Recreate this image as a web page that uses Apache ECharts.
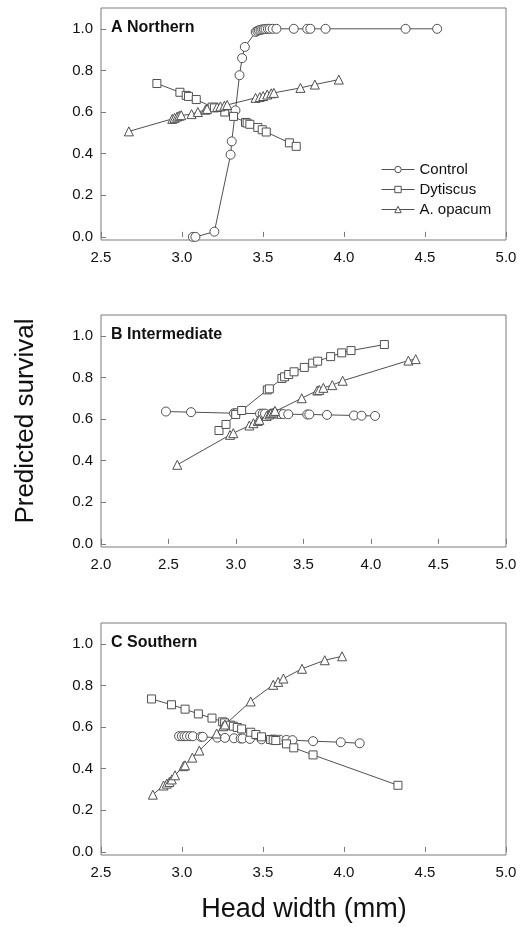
<!DOCTYPE html>
<html lang="en" style="height: 100%">
<head>
  <meta charset="utf-8">
</head>
<body style="height: 100%; margin: 0; background: #fff">
  <div id="container" style="width: 523px; height: 927px"></div>

  <script type="text/javascript" src="https://cdn.jsdelivr.net/npm/echarts@6/dist/echarts.min.js"></script>

  <script type="text/javascript">
    var dom = document.getElementById('container');
    var myChart = echarts.init(dom, null, { renderer: 'canvas' });

    // ---- data ----
    const panelTitles = ['A Northern', 'B Intermediate', 'C Southern'];
    const seriesNames = ['Control', 'Dytiscus', 'A. opacum'];
    const yTicks = [0, 0.2, 0.4, 0.6, 0.8, 1.0];

    // A Northern
    const ctrlA_x = [3.067, 3.083, 3.20, 3.30, 3.307, 3.33, 3.355, 3.371, 3.388, 3.455, 3.465, 3.475, 3.485, 3.495, 3.505, 3.516, 3.53, 3.542, 3.56, 3.583, 3.69, 3.773, 3.792, 3.886, 4.38, 4.575];
    const ctrlA_y = [0.0, 0.0, 0.025, 0.395, 0.459, 0.608, 0.777, 0.859, 0.913, 0.985, 0.99, 0.993, 0.995, 0.997, 0.998, 0.999, 1, 1, 1, 1, 1, 1, 1, 1, 1, 1];
    const dytA_x = [2.845, 2.987, 3.026, 3.04, 3.088, 3.186, 3.2, 3.264, 3.318, 3.392, 3.402, 3.419, 3.468, 3.495, 3.52, 3.663, 3.705];
    const dytA_y = [0.737, 0.695, 0.68, 0.675, 0.66, 0.624, 0.62, 0.60, 0.579, 0.55, 0.547, 0.541, 0.526, 0.515, 0.504, 0.452, 0.435];
    const opaA_x = [2.672, 2.94, 2.954, 2.97, 2.983, 2.995, 3.059, 3.098, 3.145, 3.155, 3.217, 3.237, 3.262, 3.279, 3.454, 3.48, 3.501, 3.526, 3.551, 3.567, 3.731, 3.82, 3.968];
    const opaA_y = [0.507, 0.567, 0.572, 0.578, 0.582, 0.585, 0.59, 0.60, 0.611, 0.615, 0.624, 0.627, 0.631, 0.634, 0.668, 0.672, 0.677, 0.684, 0.69, 0.692, 0.716, 0.732, 0.756];

    // B Intermediate
    const ctrlB_x = [2.481, 2.667, 2.985, 3.0, 3.178, 3.198, 3.215, 3.26, 3.3, 3.326, 3.35, 3.387, 3.528, 3.543, 3.674, 3.874, 3.93, 4.03];
    const ctrlB_y = [0.636, 0.633, 0.628, 0.628, 0.626, 0.626, 0.626, 0.625, 0.625, 0.624, 0.624, 0.623, 0.622, 0.622, 0.62, 0.617, 0.616, 0.615];
    const dytB_x = [2.874, 2.926, 2.998, 3.042, 3.232, 3.247, 3.34, 3.36, 3.39, 3.43, 3.506, 3.568, 3.605, 3.701, 3.783, 3.852, 4.099];
    const dytB_y = [0.545, 0.574, 0.622, 0.641, 0.74, 0.745, 0.795, 0.803, 0.814, 0.827, 0.848, 0.869, 0.878, 0.9, 0.918, 0.929, 0.958];
    const opaB_x = [2.565, 2.956, 2.98, 3.099, 3.129, 3.161, 3.173, 3.227, 3.247, 3.259, 3.276, 3.289, 3.487, 3.602, 3.617, 3.647, 3.713, 3.79, 4.277, 4.331];
    const opaB_y = [0.38, 0.524, 0.532, 0.569, 0.58, 0.591, 0.596, 0.615, 0.622, 0.628, 0.632, 0.639, 0.70, 0.737, 0.74, 0.75, 0.763, 0.784, 0.881, 0.888];

    // C Southern
    const ctrlC_x = [2.982, 2.999, 3.015, 3.03, 3.05, 3.067, 3.116, 3.128, 3.218, 3.265, 3.321, 3.362, 3.374, 3.419, 3.491, 3.553, 3.573, 3.604, 3.645, 3.682, 3.809, 3.98, 4.097];
    const ctrlC_y = [0.556, 0.556, 0.556, 0.556, 0.556, 0.556, 0.553, 0.553, 0.549, 0.548, 0.546, 0.545, 0.545, 0.543, 0.541, 0.54, 0.54, 0.539, 0.538, 0.537, 0.532, 0.527, 0.522];
    const dytC_x = [2.812, 2.935, 3.019, 3.101, 3.185, 3.251, 3.263, 3.30, 3.317, 3.341, 3.368, 3.424, 3.456, 3.491, 3.547, 3.563, 3.579, 3.645, 3.69, 3.809, 4.333];
    const dytC_y = [0.735, 0.707, 0.686, 0.663, 0.643, 0.625, 0.62, 0.609, 0.604, 0.598, 0.591, 0.575, 0.564, 0.553, 0.54, 0.538, 0.535, 0.519, 0.5, 0.466, 0.32];
    const opaC_x = [2.82, 2.886, 2.906, 2.922, 2.937, 2.957, 3.009, 3.019, 3.064, 3.107, 3.214, 3.255, 3.265, 3.424, 3.563, 3.594, 3.626, 3.741, 3.881, 3.988];
    const opaC_y = [0.275, 0.319, 0.328, 0.336, 0.348, 0.368, 0.412, 0.416, 0.453, 0.487, 0.569, 0.604, 0.612, 0.723, 0.803, 0.817, 0.833, 0.88, 0.921, 0.94];

    const xMins = [2.5, 2.0, 2.5];

    function zip(xs, ys) {
      return xs.map(function (x, i) { return [x, ys[i]]; });
    }

    const panels = [
      [zip(ctrlA_x, ctrlA_y), zip(dytA_x, dytA_y), zip(opaA_x, opaA_y)],
      [zip(ctrlB_x, ctrlB_y), zip(dytB_x, dytB_y), zip(opaB_x, opaB_y)],
      [zip(ctrlC_x, ctrlC_y), zip(dytC_x, dytC_y), zip(opaC_x, opaC_y)]
    ];

    const FONT = 'Liberation Sans';
    const frame = '#7a7a7a';
    const ink = '#505050';
    const symbols = ['circle', 'rect', 'triangle'];
    const symbolSizes = [9, 8, 9];
    const gridTops = [8, 315, 623];

    const grids = [], xAxes = [], yAxes = [], series = [], titles = [];
    gridTops.forEach(function (top, p) {
      grids.push({
        left: 101, top: top, width: 405, height: 232,
        show: true, borderColor: frame, borderWidth: 1,
        containLabel: false
      });
      xAxes.push({
        type: 'value', gridIndex: p, min: xMins[p], max: 5.0, interval: 0.5,
        axisLine: { show: false },
        axisTick: { inside: true, length: 5, lineStyle: { color: frame } },
        splitLine: { show: false },
        axisLabel: {
          margin: 10, color: '#111', fontFamily: FONT, fontSize: 15,
          formatter: function (v) { return v.toFixed(1); }
        }
      });
      yAxes.push({
        type: 'value', gridIndex: p, min: -0.015, max: 1.1,
        axisLine: { show: false },
        axisTick: { inside: true, length: 5, lineStyle: { color: frame }, customValues: yTicks },
        splitLine: { show: false },
        axisLabel: {
          margin: 8, color: '#111', fontFamily: FONT, fontSize: 15,
          customValues: yTicks,
          formatter: function (v) { return v.toFixed(1); }
        }
      });
      titles.push({
        text: panelTitles[p], left: 106, top: top + 7,
        textStyle: { fontFamily: FONT, fontWeight: 'bold', fontSize: 16, color: '#111' }
      });
      panels[p].forEach(function (data, s) {
        series.push({
          name: seriesNames[s], type: 'line',
          xAxisIndex: p, yAxisIndex: p,
          data: data,
          symbol: symbols[s], symbolSize: symbolSizes[s], showAllSymbol: true,
          lineStyle: { color: ink, width: 1 },
          itemStyle: { color: '#fff', borderColor: ink, borderWidth: 1 },
          emphasis: { disabled: true }
        });
      });
    });

    var option = {
      animation: false,
      backgroundColor: '#fff',
      title: titles,
      grid: grids,
      xAxis: xAxes,
      yAxis: yAxes,
      legend: {
        data: seriesNames,
        orient: 'vertical',
        left: 376, top: 157,
        itemWidth: 33, itemHeight: 8, itemGap: 5,
        lineStyle: { width: 1 },
        itemStyle: { borderWidth: 1 },
        textStyle: { fontFamily: FONT, fontSize: 15, color: '#111', padding: [0, 0, 0, 0] }
      },
      graphic: [
        {
          type: 'text', x: 26, y: 421, rotation: Math.PI / 2,
          style: {
            text: 'Predicted survival', font: '26px "Liberation Sans"', fill: '#111',
            textAlign: 'center', textVerticalAlign: 'middle'
          }
        },
        {
          type: 'text', x: 304, y: 910,
          style: {
            text: 'Head width (mm)', font: '27px "Liberation Sans"', fill: '#111',
            textAlign: 'center', textVerticalAlign: 'middle'
          }
        }
      ],
      series: series
    };

    myChart.setOption(option);
    window.addEventListener('resize', myChart.resize);
  </script>
</body>
</html>
